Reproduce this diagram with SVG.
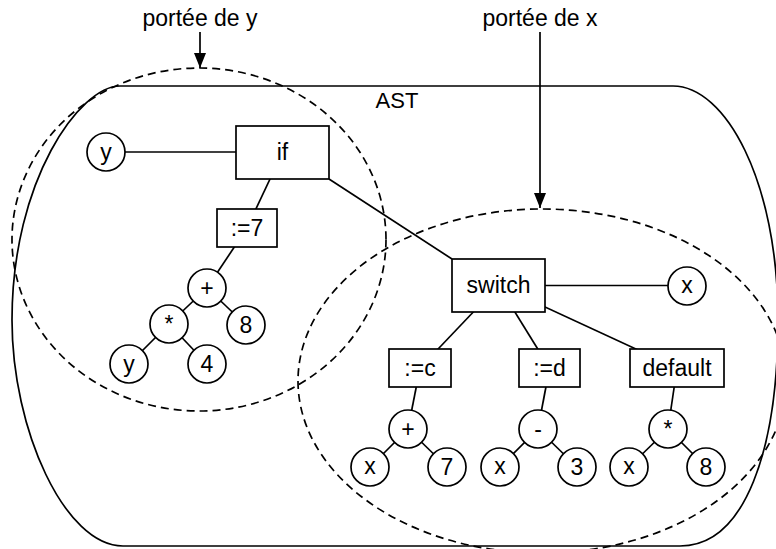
<svg xmlns="http://www.w3.org/2000/svg" width="776" height="549" viewBox="0 0 776 549">
<defs>
<style>
.s{fill:none;stroke:#000;stroke-width:1.7}
.d{fill:none;stroke:#000;stroke-width:1.7;stroke-dasharray:8 5}
.n{fill:#fff;stroke:#000;stroke-width:1.7}
.c line{stroke:#000;stroke-width:1.7}
text{font-family:"Liberation Sans",Arial,Helvetica,sans-serif;font-size:23px;fill:#000;text-anchor:middle}
</style>
<marker id="arr" markerUnits="userSpaceOnUse" markerWidth="15" markerHeight="12" viewBox="0 0 15 12" refX="15" refY="6" orient="auto">
<path d="M0,0 L15,6 L0,12 z" fill="#000"/>
</marker>
</defs>
<rect width="776" height="549" fill="#fff"/>
<g id="ast">
<path class="s" d="M120,86 H673 C725,86 778,180 778,320 C778,450 745,546 680,546 H123 C65,546 12,430 12,320 C12,180 80,86 120,86 Z"/>
<text x="397" y="108" style="font-size:22px">AST</text>
</g>
<g id="scopes">
<ellipse class="d" cx="199" cy="239.5" rx="187" ry="171.5"/>
<ellipse class="d" cx="542" cy="381" rx="244" ry="172"/>
</g>
<g id="labels">
<text x="200" y="26">portée de y</text>
<line class="s" x1="200" y1="32" x2="200" y2="68" marker-end="url(#arr)"/>
<text x="540" y="26">portée de x</text>
<line class="s" x1="540" y1="32" x2="540" y2="208" marker-end="url(#arr)"/>
</g>
<g id="connectors" class="c">
<line x1="106" y1="152" x2="282.5" y2="152"/>
<line x1="282.5" y1="152.5" x2="247" y2="228"/>
<line x1="329" y1="179" x2="452" y2="259"/>
<line x1="247" y1="228" x2="207" y2="288"/>
<line x1="207" y1="288" x2="169" y2="324"/>
<line x1="207" y1="288" x2="246" y2="325"/>
<line x1="169" y1="324" x2="129" y2="364"/>
<line x1="169" y1="324" x2="207" y2="364"/>
<line x1="498.5" y1="285.5" x2="687" y2="285.5"/>
<line x1="498.5" y1="285.5" x2="420" y2="368"/>
<line x1="498.5" y1="285.5" x2="549.5" y2="368"/>
<line x1="498.5" y1="285.5" x2="677" y2="368"/>
<line x1="420" y1="368" x2="408" y2="429"/>
<line x1="549.5" y1="368" x2="538" y2="429"/>
<line x1="677" y1="368" x2="668" y2="429"/>
<line x1="408" y1="429" x2="370" y2="467"/>
<line x1="408" y1="429" x2="447" y2="467"/>
<line x1="538" y1="429" x2="500" y2="467"/>
<line x1="538" y1="429" x2="577" y2="467"/>
<line x1="668" y1="429" x2="629" y2="467"/>
<line x1="668" y1="429" x2="706" y2="467"/>
</g>
<g id="node-y1"><circle class="n" cx="106" cy="152" r="19"/><text x="106" y="159.5">y</text></g>
<g id="node-if"><rect class="n" x="236" y="126" width="93" height="53"/><text x="282.5" y="160">if</text></g>
<g id="node-assign7"><rect class="n" x="217" y="209" width="60" height="38"/><text x="247" y="236">:=7</text></g>
<g id="node-plus1"><circle class="n" cx="207" cy="288" r="19"/><text x="207" y="295.5">+</text></g>
<g id="node-mul1"><circle class="n" cx="169" cy="324" r="19"/><text x="169" y="331.5">*</text></g>
<g id="node-8a"><circle class="n" cx="246" cy="325" r="19"/><text x="246" y="333">8</text></g>
<g id="node-y2"><circle class="n" cx="129" cy="364" r="19"/><text x="129" y="371.5">y</text></g>
<g id="node-4"><circle class="n" cx="207" cy="364" r="19"/><text x="207" y="372">4</text></g>
<g id="node-switch"><rect class="n" x="452" y="259" width="93" height="53"/><text x="498.5" y="293">switch</text></g>
<g id="node-x1"><circle class="n" cx="687" cy="286" r="19"/><text x="687" y="293">x</text></g>
<g id="node-assignc"><rect class="n" x="389" y="349" width="62" height="38"/><text x="420" y="376">:=c</text></g>
<g id="node-assignd"><rect class="n" x="519" y="349" width="61" height="38"/><text x="549.5" y="376">:=d</text></g>
<g id="node-default"><rect class="n" x="630" y="349" width="94" height="38"/><text x="677" y="376">default</text></g>
<g id="node-plus2"><circle class="n" cx="408" cy="429" r="19"/><text x="408" y="436.5">+</text></g>
<g id="node-minus"><circle class="n" cx="538" cy="429" r="19"/><text x="538" y="436.5">-</text></g>
<g id="node-mul2"><circle class="n" cx="668" cy="429" r="19"/><text x="668" y="436.5">*</text></g>
<g id="node-x2"><circle class="n" cx="370" cy="467" r="19"/><text x="370" y="474">x</text></g>
<g id="node-7"><circle class="n" cx="447" cy="467" r="19"/><text x="447" y="475">7</text></g>
<g id="node-x3"><circle class="n" cx="500" cy="467" r="19"/><text x="500" y="474">x</text></g>
<g id="node-3"><circle class="n" cx="577" cy="467" r="19"/><text x="577" y="475">3</text></g>
<g id="node-x4"><circle class="n" cx="629" cy="467" r="19"/><text x="629" y="474">x</text></g>
<g id="node-8b"><circle class="n" cx="706" cy="467" r="19"/><text x="706" y="475">8</text></g>
</svg>
